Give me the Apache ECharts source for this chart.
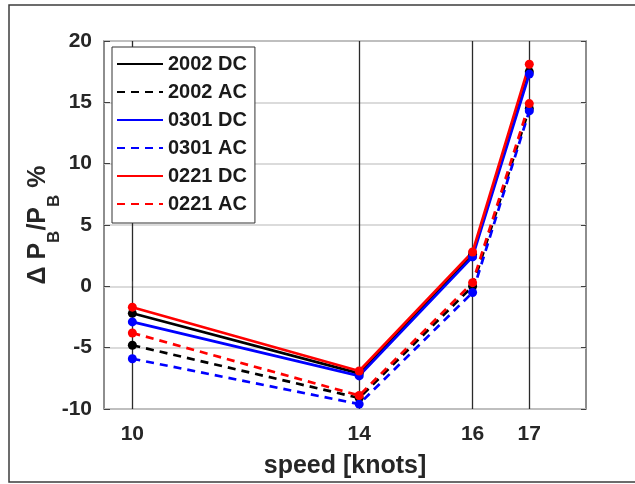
<!DOCTYPE html>
<html>
<head>
<meta charset="utf-8">
<script src="https://cdn.jsdelivr.net/npm/echarts@6/dist/echarts.min.js"></script>
<style>
  html, body { margin: 0; padding: 0; background: #fff; }
  #chart { width: 635px; height: 484px; }
</style>
</head>
<body>
<div id="chart"></div>
<script>
// Ship speed (knots) at which each run was measured
const speeds = [10, 14, 16, 17];
const xTicks = [10, 14, 16, 17];

// Relative change of brake power, percent
const p2002DC = [-2.2, -7.1, 2.6, 17.5];
const p2002AC = [-4.8, -9.1, 0.0, 14.5];
const p0301DC = [-2.9, -7.3, 2.4, 17.3];
const p0301AC = [-5.9, -9.6, -0.5, 14.3];
const p0221DC = [-1.7, -6.9, 2.8, 18.1];
const p0221AC = [-3.8, -8.9, 0.3, 14.9];

const runs = [
  { name: '2002 DC', values: p2002DC, color: '#000000', dashed: false },
  { name: '2002 AC', values: p2002AC, color: '#000000', dashed: true },
  { name: '0301 DC', values: p0301DC, color: '#0000ff', dashed: false },
  { name: '0301 AC', values: p0301AC, color: '#0000ff', dashed: true },
  { name: '0221 DC', values: p0221DC, color: '#ff0000', dashed: false },
  { name: '0221 AC', values: p0221AC, color: '#ff0000', dashed: true }
];

const font = 'Liberation Sans, Arial, sans-serif';

const chart = echarts.init(document.getElementById('chart'), null, { renderer: 'canvas' });

const series = runs.map(r => ({
  name: r.name,
  type: 'line',
  data: speeds.map((s, i) => [s, r.values[i]]),
  symbol: 'circle',
  symbolSize: 9,
  showSymbol: true,
  animation: false,
  itemStyle: { color: r.color },
  lineStyle: { color: r.color, width: 2.7, type: r.dashed ? [8, 6] : 'solid' },
  emphasis: { disabled: true }
}));

chart.setOption({
  backgroundColor: '#ffffff',
  animation: false,
  graphic: [{
    type: 'rect',
    shape: { x: 9, y: 5, width: 640, height: 477 },
    style: { fill: 'none', stroke: '#3c3c3c', lineWidth: 1.5 },
    silent: true,
    z: -10
  }],
  grid: {
    left: 104, right: 49, top: 41, bottom: 73,
    show: true, borderColor: '#6a6a6a', borderWidth: 1.5, backgroundColor: '#ffffff'
  },
  legend: {
    orient: 'vertical',
    left: 112, top: 47,
    padding: [7, 8, 9, 4],
    itemWidth: 46, itemHeight: 14, itemGap: 8,
    backgroundColor: '#ffffff',
    borderColor: '#333333', borderWidth: 1,
    itemStyle: { opacity: 0 },
    textStyle: { fontFamily: font, fontWeight: 'bold', fontSize: 20, color: '#1a1a1a' },
    data: runs.map(r => r.name)
  },
  xAxis: {
    type: 'value', min: 9.5, max: 18,
    name: 'speed [knots]', nameLocation: 'middle', nameGap: 45,
    nameTextStyle: { fontFamily: font, fontWeight: 'bold', fontSize: 25, color: '#262626' },
    axisLine: { show: false },
    axisTick: { show: true, inside: true, length: 5, customValues: xTicks, lineStyle: { color: '#404040' } },
    axisLabel: { customValues: xTicks, margin: 15, fontFamily: font, fontWeight: 'bold', fontSize: 21, color: '#262626' },
    splitLine: { show: true, lineStyle: { color: '#2a2a2a', width: 1.3 } }
  },
  yAxis: [{
    type: 'value', min: -10, max: 20, interval: 5,
    name: '{m|Δ P}{s|B}{m|/P}{s|B}{m| %}',
    nameLocation: 'middle', nameGap: 50, nameRotate: 90, nameMoveOverlap: false,
    nameTextStyle: {
      rich: {
        m: { fontFamily: font, fontWeight: 'bold', fontSize: 25, color: '#262626', lineHeight: 28, verticalAlign: 'top' },
        s: { fontFamily: font, fontWeight: 'bold', fontSize: 17, color: '#262626', lineHeight: 17, padding: [20, 0, 0, 0], verticalAlign: 'top' }
      }
    },
    axisLine: { show: false },
    axisTick: { show: true, inside: true, length: 6, lineStyle: { color: '#404040' } },
    axisLabel: { margin: 12, fontFamily: font, fontWeight: 'bold', fontSize: 21, color: '#262626' },
    splitLine: { show: true, lineStyle: { color: '#cfcfcf', width: 1.5 } }
  }, {
    type: 'value', min: -10, max: 20, interval: 5, position: 'right',
    axisLine: { show: false },
    axisTick: { show: true, inside: true, length: 5, lineStyle: { color: '#404040' } },
    axisLabel: { show: false },
    splitLine: { show: false }
  }],
  series: series
});
</script>
</body>
</html>
